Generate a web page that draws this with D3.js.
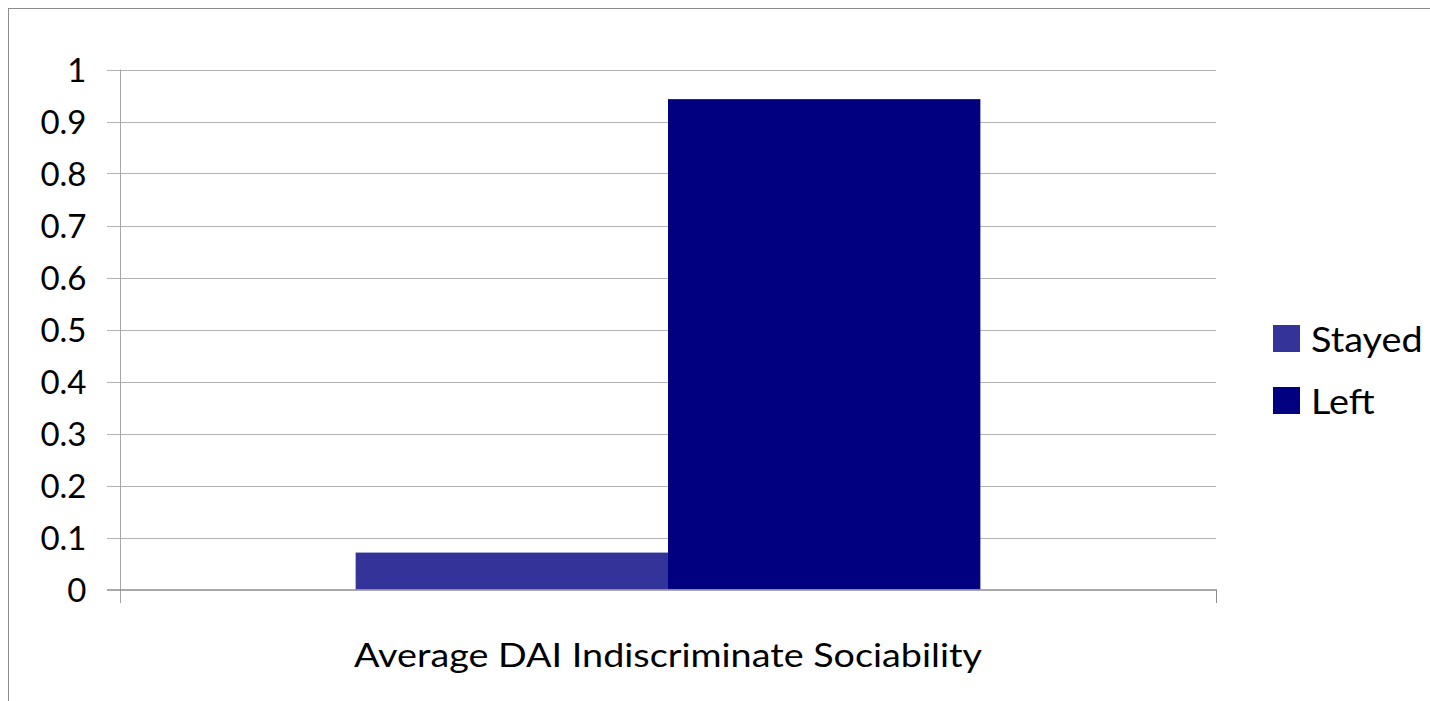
<!DOCTYPE html>
<html>
<head>
<meta charset="utf-8">
<script src="https://cdn.jsdelivr.net/npm/d3@7"></script>
<style>
  html, body { margin: 0; padding: 0; background: #fff; }
  svg { display: block; }
  text { font-family: Lato, "Open Sans", sans-serif; fill: #000; }
</style>
</head>
<body>
<svg id="chart" width="1430" height="701"></svg>
<script>
const categories = ["Average DAI Indiscriminate Sociability"];
const seriesNames = ["Stayed", "Left"];
const stayedValues = [0.071];
const leftValues = [0.943];
const yTicks = [0, 0.1, 0.2, 0.3, 0.4, 0.5, 0.6, 0.7, 0.8, 0.9, 1];
const yTickLabels = ["0", "0.1", "0.2", "0.3", "0.4", "0.5", "0.6", "0.7", "0.8", "0.9", "1"];
const seriesColors = ["#333399", "#000080"];

const seriesValues = [stayedValues, leftValues];
const svg = d3.select("#chart");

// outer chart border
svg.append("rect")
  .attr("x", 8.5).attr("y", 8.5)
  .attr("width", 1440).attr("height", 720)
  .attr("fill", "none").attr("stroke", "#8c8c8c").attr("stroke-width", 1);

const plotLeft = 120, plotRight = 1216, plotTop = 69.5, plotBottom = 589.5;

const y = d3.scaleLinear().domain([0, 1]).range([plotBottom, plotTop]);
const x0 = d3.scaleBand().domain(categories).range([plotLeft, plotRight])
  .paddingInner(0.43).paddingOuter(0.215);
const x1 = d3.scaleBand().domain(seriesNames).range([0, x0.bandwidth()]).padding(0);

// gridlines
svg.append("g").selectAll("line")
  .data(yTicks.filter(t => t > 0))
  .join("line")
  .attr("x1", 107).attr("x2", plotRight)
  .attr("y1", d => Math.round(y(d)) + 0.5).attr("y2", d => Math.round(y(d)) + 0.5)
  .attr("stroke", "#b3b3b3").attr("stroke-width", 1);

// y axis via d3
const yAxis = d3.axisLeft(y).tickValues(yTicks)
  .tickFormat((d, i) => yTickLabels[i]).tickSize(0).tickPadding(34);
const yg = svg.append("g").attr("transform", `translate(${plotLeft + 0.5},0)`).call(yAxis);
yg.select(".domain").remove();
yg.selectAll("text")
  .attr("font-size", 33).attr("font-family", "Lato, sans-serif")
  .attr("dy", "0.36em").attr("fill", "#000");

// bars
const groups = svg.append("g").selectAll("g")
  .data(categories).join("g")
  .attr("transform", d => `translate(${x0(d)},0)`);
groups.selectAll("rect")
  .data((d, ci) => seriesNames.map((s, si) => ({ s, v: seriesValues[si][ci], c: seriesColors[si] })))
  .join("rect")
  .attr("x", d => x1(d.s))
  .attr("width", x1.bandwidth())
  .attr("y", d => y(d.v))
  .attr("height", d => y(0) - y(d.v))
  .attr("fill", d => d.c);

// y axis line
svg.append("line")
  .attr("x1", plotLeft + 0.5).attr("x2", plotLeft + 0.5)
  .attr("y1", plotTop).attr("y2", 603)
  .attr("stroke", "#a6a6a6");
// x axis line and end tick
svg.append("line")
  .attr("x1", 107).attr("x2", plotRight + 0.5)
  .attr("y1", plotBottom + 0.5).attr("y2", plotBottom + 0.5)
  .attr("stroke", "#8c8c8c").attr("stroke-width", 1.5);
svg.append("line")
  .attr("x1", plotRight + 0.5).attr("x2", plotRight + 0.5)
  .attr("y1", plotBottom).attr("y2", 603)
  .attr("stroke", "#8c8c8c");

// category label
svg.append("g").selectAll("text")
  .data(categories).join("text")
  .attr("transform", d => `translate(${x0(d) + x0.bandwidth() / 2},667) scale(1.18,1)`)
  .attr("text-anchor", "middle")
  .attr("font-size", 32)
  .text(d => d);

// legend
const legend = svg.append("g").selectAll("g")
  .data(seriesNames).join("g")
  .attr("transform", (d, i) => `translate(1273,${325 + i * 62})`);
legend.append("rect")
  .attr("width", 27).attr("height", 27)
  .attr("fill", (d, i) => seriesColors[i]);
legend.append("text")
  .attr("transform", "translate(38,26.5) scale(1.08,1)")
  .attr("font-size", 35)
  .text(d => d);
</script>
</body>
</html>
